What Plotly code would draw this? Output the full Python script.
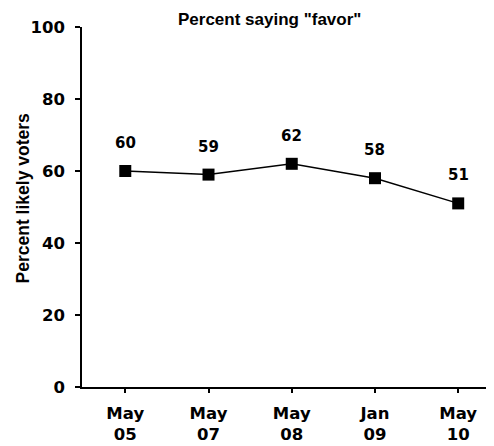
import plotly.graph_objects as go

# survey waves and share saying "favor"
waves = ['May<br>05', 'May<br>07', 'May<br>08', 'Jan<br>09', 'May<br>10']
favor = [60, 59, 62, 58, 51]
y_ticks = [0, 20, 40, 60, 80, 100]

num_font = 'DejaVu Sans, sans-serif'
txt_font = 'Liberation Sans, Arial, sans-serif'

fig = go.Figure()
fig.add_trace(go.Scatter(
    x=list(range(len(waves))),
    y=favor,
    mode='lines+markers',
    line=dict(color='black', width=1.5),
    marker=dict(symbol='square', size=12, color='black'),
    showlegend=False,
    hoverinfo='skip'
))

# value labels above each point
for i, v in enumerate(favor):
    fig.add_annotation(x=i, y=v, text=str(v), showarrow=False, yshift=28,
                       font=dict(size=15, color='black', family=num_font, weight='bold'))

fig.add_annotation(text='Percent saying "favor"', x=0.454, y=1.022, xref='paper', yref='paper',
                   xanchor='center', yanchor='middle', showarrow=False,
                   font=dict(size=17, color='black', family=txt_font, weight='bold'))

# y-axis title
fig.add_annotation(text='Percent likely voters', x=-0.143, y=0.524, xref='paper', yref='paper',
                   xanchor='center', yanchor='middle', textangle=-90, showarrow=False,
                   font=dict(size=17.5, color='black', family=txt_font, weight='bold'))

fig.update_layout(
    width=486, height=438,
    margin=dict(l=74, r=0, t=19, b=59),
    plot_bgcolor='white', paper_bgcolor='white',
    font=dict(family=num_font, color='black', size=16.5, weight='bold'),
    xaxis=dict(
        range=[-0.52, 4.43],
        tickvals=list(range(len(waves))),
        ticktext=waves,
        ticks='outside', ticklen=4, tickcolor='black', tickwidth=1.5,
        ticklabelstandoff=6,
        showline=True, linecolor='black', linewidth=1.5,
        showgrid=False, zeroline=False,
        tickfont=dict(size=16.5, family=num_font, weight='bold'),
    ),
    yaxis=dict(
        range=[0, 100],
        tickvals=y_ticks,
        ticks='outside', ticklen=5, tickcolor='black', tickwidth=1.5,
        ticklabelstandoff=7,
        showline=True, linecolor='black', linewidth=1.5,
        showgrid=False, zeroline=False,
        tickfont=dict(size=16.5, family=num_font, weight='bold'),
    ),
)

fig.write_html('out.html')
